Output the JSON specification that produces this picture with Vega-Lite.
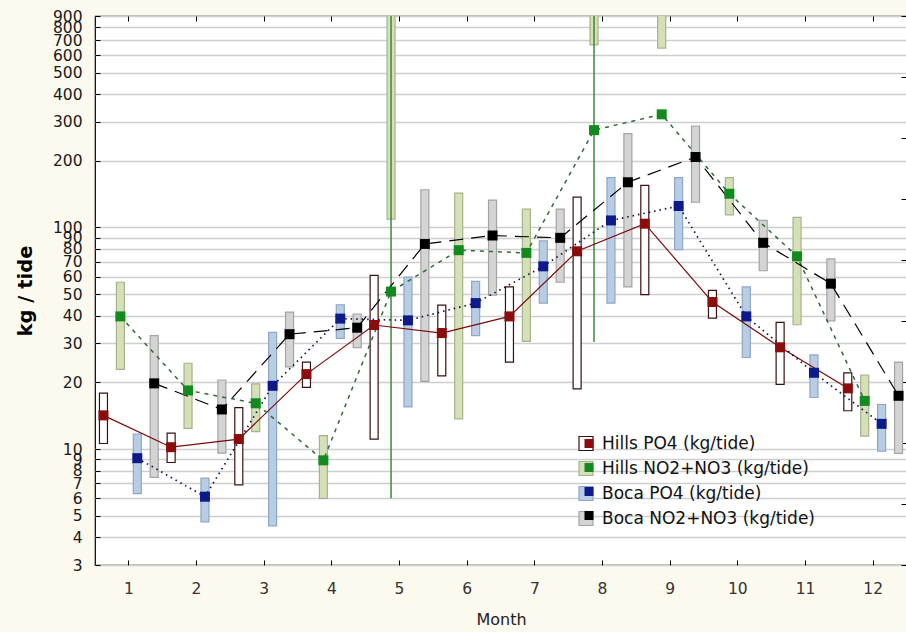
{
  "$schema": "https://vega.github.io/schema/vega-lite/v6.json",
  "width": 812,
  "height": 549,
  "autosize": {"type": "none"},
  "padding": {"left": 95, "top": 16, "right": 0, "bottom": 67},
  "background": "#fcf9ee",
  "config": {
    "view": {"stroke": "#000000", "strokeWidth": 1.2, "fill": "#ffffff"},
    "axis": {"domain": false, "tickColor": "#000000", "tickSize": -5, "labelFont": "DejaVu Sans", "titleFont": "DejaVu Sans"}
  },
  "data": {
    "values": [
      {"month": 1, "series": "Hills PO4 (kg/tide)", "mean": 14.2, "lo": 10.6, "hi": 17.9},
      {"month": 1, "series": "Hills NO2+NO3 (kg/tide)", "mean": 39.7, "lo": 22.9, "hi": 56.6},
      {"month": 1, "series": "Boca PO4  (kg/tide)", "mean": 9.1, "lo": 6.3, "hi": 11.7},
      {"month": 1, "series": "Boca NO2+NO3 (kg/tide)", "mean": 19.8, "lo": 7.45, "hi": 32.5},
      {"month": 2, "series": "Hills PO4 (kg/tide)", "mean": 10.2, "lo": 8.7, "hi": 11.8},
      {"month": 2, "series": "Hills NO2+NO3 (kg/tide)", "mean": 18.4, "lo": 12.4, "hi": 24.4},
      {"month": 2, "series": "Boca PO4  (kg/tide)", "mean": 6.1, "lo": 4.7, "hi": 7.4},
      {"month": 2, "series": "Boca NO2+NO3 (kg/tide)", "mean": 15.1, "lo": 9.6, "hi": 20.5},
      {"month": 3, "series": "Hills PO4 (kg/tide)", "mean": 11.1, "lo": 6.9, "hi": 15.4},
      {"month": 3, "series": "Hills NO2+NO3 (kg/tide)", "mean": 16.1, "lo": 12.0, "hi": 19.7},
      {"month": 3, "series": "Boca PO4  (kg/tide)", "mean": 19.3, "lo": 4.5, "hi": 33.6},
      {"month": 3, "series": "Boca NO2+NO3 (kg/tide)", "mean": 33.0, "lo": 23.5, "hi": 41.5},
      {"month": 4, "series": "Hills PO4 (kg/tide)", "mean": 21.8, "lo": 19.0, "hi": 24.7},
      {"month": 4, "series": "Hills NO2+NO3 (kg/tide)", "mean": 8.9, "lo": 6.0, "hi": 11.5},
      {"month": 4, "series": "Boca PO4  (kg/tide)", "mean": 38.8, "lo": 31.6, "hi": 44.8},
      {"month": 4, "series": "Boca NO2+NO3 (kg/tide)", "mean": 35.3, "lo": 28.7, "hi": 40.7},
      {"month": 5, "series": "Hills PO4 (kg/tide)", "mean": 36.3, "lo": 11.1, "hi": 60.8},
      {"month": 5, "series": "Hills NO2+NO3 (kg/tide)", "mean": 51.4, "lo": 109, "hi": 1000, "wlo": 6.0, "whi": 1000},
      {"month": 5, "series": "Boca PO4  (kg/tide)", "mean": 38.1, "lo": 15.5, "hi": 59.7},
      {"month": 5, "series": "Boca NO2+NO3 (kg/tide)", "mean": 84.3, "lo": 20.2, "hi": 148},
      {"month": 6, "series": "Hills PO4 (kg/tide)", "mean": 33.4, "lo": 21.4, "hi": 44.6},
      {"month": 6, "series": "Hills NO2+NO3 (kg/tide)", "mean": 79.0, "lo": 13.7, "hi": 143},
      {"month": 6, "series": "Boca PO4  (kg/tide)", "mean": 45.6, "lo": 32.5, "hi": 57.1},
      {"month": 6, "series": "Boca NO2+NO3 (kg/tide)", "mean": 92.0, "lo": 49.5, "hi": 133},
      {"month": 7, "series": "Hills PO4 (kg/tide)", "mean": 39.7, "lo": 24.7, "hi": 53.9},
      {"month": 7, "series": "Hills NO2+NO3 (kg/tide)", "mean": 76.8, "lo": 30.6, "hi": 121},
      {"month": 7, "series": "Boca PO4  (kg/tide)", "mean": 66.8, "lo": 45.6, "hi": 87.1},
      {"month": 7, "series": "Boca NO2+NO3 (kg/tide)", "mean": 89.8, "lo": 56.6, "hi": 121},
      {"month": 8, "series": "Hills PO4 (kg/tide)", "mean": 78.1, "lo": 18.7, "hi": 137},
      {"month": 8, "series": "Hills NO2+NO3 (kg/tide)", "mean": 275, "lo": 667, "hi": 1000, "wlo": 30.4, "whi": 1000},
      {"month": 8, "series": "Boca PO4  (kg/tide)", "mean": 107.6, "lo": 45.6, "hi": 168},
      {"month": 8, "series": "Boca NO2+NO3 (kg/tide)", "mean": 160, "lo": 53.9, "hi": 265},
      {"month": 9, "series": "Hills PO4 (kg/tide)", "mean": 104, "lo": 49.8, "hi": 155},
      {"month": 9, "series": "Hills NO2+NO3 (kg/tide)", "mean": 324, "lo": 645, "hi": 1000},
      {"month": 9, "series": "Boca PO4  (kg/tide)", "mean": 125, "lo": 79.4, "hi": 168},
      {"month": 9, "series": "Boca NO2+NO3 (kg/tide)", "mean": 208, "lo": 130, "hi": 287},
      {"month": 10, "series": "Hills PO4 (kg/tide)", "mean": 46.1, "lo": 39.0, "hi": 52.0},
      {"month": 10, "series": "Hills NO2+NO3 (kg/tide)", "mean": 142, "lo": 114, "hi": 168},
      {"month": 10, "series": "Boca PO4  (kg/tide)", "mean": 39.7, "lo": 25.9, "hi": 53.9},
      {"month": 10, "series": "Boca NO2+NO3 (kg/tide)", "mean": 85.3, "lo": 63.8, "hi": 107.6},
      {"month": 11, "series": "Hills PO4 (kg/tide)", "mean": 28.8, "lo": 19.6, "hi": 37.3},
      {"month": 11, "series": "Hills NO2+NO3 (kg/tide)", "mean": 74.1, "lo": 36.4, "hi": 111},
      {"month": 11, "series": "Boca PO4  (kg/tide)", "mean": 22.1, "lo": 17.1, "hi": 26.6},
      {"month": 11, "series": "Boca NO2+NO3 (kg/tide)", "mean": 55.8, "lo": 37.9, "hi": 72.1},
      {"month": 12, "series": "Hills PO4 (kg/tide)", "mean": 18.8, "lo": 14.9, "hi": 22.1},
      {"month": 12, "series": "Hills NO2+NO3 (kg/tide)", "mean": 16.5, "lo": 11.45, "hi": 21.6},
      {"month": 12, "series": "Boca PO4  (kg/tide)", "mean": 13.0, "lo": 9.8, "hi": 15.9},
      {"month": 12, "series": "Boca NO2+NO3 (kg/tide)", "mean": 17.4, "lo": 9.56, "hi": 24.7}
    ]
  },
  "layer": [
    {
      "encoding": {
        "x": {
          "field": "month", "type": "ordinal", "title": "Month",
          "scale": {"type": "band", "paddingInner": 0, "paddingOuter": 0},
          "axis": {
            "orient": "bottom", "labelAngle": 0, "grid": false,
            "labelFontSize": 15.5, "labelColor": "#333333", "labelPadding": 21.5,
            "titleFontSize": 16, "titleFontWeight": "normal", "titleColor": "#222222", "titlePadding": 14
          }
        },
        "xOffset": {
          "field": "series", "type": "nominal",
          "scale": {
            "domain": ["Hills PO4 (kg/tide)", "Hills NO2+NO3 (kg/tide)", "Boca PO4  (kg/tide)", "Boca NO2+NO3 (kg/tide)"],
            "paddingInner": 0, "paddingOuter": 0
          }
        }
      },
      "layer": [
        {
          "mark": {"type": "bar", "width": 8, "clip": true, "strokeWidth": 1.2},
          "encoding": {
            "y": {
              "field": "lo", "type": "quantitative", "title": "kg / tide",
              "scale": {"type": "log", "domain": [3, 900], "nice": false},
              "axis": {
                "orient": "left",
                "values": [3, 4, 5, 6, 7, 8, 9, 10, 20, 30, 40, 50, 60, 70, 80, 90, 100, 200, 300, 400, 500, 600, 700, 800, 900],
                "format": "d", "labelOverlap": false, "labelFontSize": 15.5, "labelColor": "#1a1a1a", "labelPadding": 18,
                "grid": true, "gridColor": "#cecece", "gridWidth": 1.5,
                "titleFontSize": 19.5, "titleFontWeight": "bold", "titleColor": "#000000", "titlePadding": 17
              }
            },
            "y2": {"field": "hi"},
            "fill": {
              "field": "series", "type": "nominal",
              "scale": {
                "domain": ["Hills PO4 (kg/tide)", "Hills NO2+NO3 (kg/tide)", "Boca PO4  (kg/tide)", "Boca NO2+NO3 (kg/tide)"],
                "range": ["#ffffff", "#d5e0b9", "#b8cce4", "#d4d4d4"]
              },
              "legend": {
                "title": null, "orient": "none", "legendX": 482.5, "legendY": 419, "padding": 0,
                "symbolType": "square", "symbolSize": 196, "symbolStrokeWidth": 1.2,
                "labelFont": "DejaVu Sans", "labelFontSize": 17, "labelColor": "#111111", "labelOffset": 7.5,
                "labelLimit": 400, "rowPadding": 6, "zindex": 0
              }
            },
            "stroke": {
              "field": "series", "type": "nominal",
              "scale": {
                "domain": ["Hills PO4 (kg/tide)", "Hills NO2+NO3 (kg/tide)", "Boca PO4  (kg/tide)", "Boca NO2+NO3 (kg/tide)"],
                "range": ["#3a1010", "#a5b38a", "#8ea6c8", "#a3a3a3"]
              }
            }
          }
        },
        {
          "transform": [{"filter": {"field": "whi", "valid": true}}],
          "mark": {"type": "rule", "color": "#3a8a3a", "strokeWidth": 1.5, "clip": true},
          "encoding": {
            "y": {"field": "wlo", "type": "quantitative", "title": "kg / tide"},
            "y2": {"field": "whi"}
          }
        },
        {
          "transform": [{"filter": {"field": "series", "equal": "Hills PO4 (kg/tide)"}}],
          "mark": {"type": "line", "stroke": "#7a0a0a", "strokeWidth": 1.2},
          "encoding": {"y": {"field": "mean", "type": "quantitative", "title": "kg / tide"}}
        },
        {
          "transform": [{"filter": {"field": "series", "equal": "Hills NO2+NO3 (kg/tide)"}}],
          "mark": {"type": "line", "stroke": "#2f6a3a", "strokeWidth": 1.5, "strokeDash": [4, 5]},
          "encoding": {"y": {"field": "mean", "type": "quantitative", "title": "kg / tide"}}
        },
        {
          "transform": [{"filter": {"field": "series", "equal": "Boca PO4  (kg/tide)"}}],
          "mark": {"type": "line", "stroke": "#101040", "strokeWidth": 1.7, "strokeDash": [1.5, 4]},
          "encoding": {"y": {"field": "mean", "type": "quantitative", "title": "kg / tide"}}
        },
        {
          "transform": [{"filter": {"field": "series", "equal": "Boca NO2+NO3 (kg/tide)"}}],
          "mark": {"type": "line", "stroke": "#000000", "strokeWidth": 1.2, "strokeDash": [14, 8]},
          "encoding": {"y": {"field": "mean", "type": "quantitative", "title": "kg / tide"}}
        },
        {
          "mark": {"type": "point", "shape": "square", "filled": true, "size": 100, "opacity": 1, "strokeWidth": 0},
          "encoding": {
            "y": {"field": "mean", "type": "quantitative", "title": "kg / tide"},
            "color": {
              "field": "series", "type": "nominal",
              "sort": ["Hills PO4 (kg/tide)", "Hills NO2+NO3 (kg/tide)", "Boca PO4  (kg/tide)", "Boca NO2+NO3 (kg/tide)"],
              "scale": {"range": ["#8a0c0c", "#128a1e", "#0c1a8a", "#000000"]},
              "legend": {
                "title": null, "orient": "none", "legendX": 485.5, "legendY": 419, "padding": 0,
                "symbolType": "square", "symbolSize": 81, "symbolStrokeWidth": 0,
                "labelFont": "DejaVu Sans", "labelFontSize": 17, "labelExpr": "' '", "labelOffset": 10.5,
                "rowPadding": 6, "zindex": 1
              }
            }
          }
        }
      ]
    },
    {
      "mark": {"type": "point", "opacity": 0, "clip": true},
      "encoding": {
        "x": {
          "field": "month", "type": "ordinal", "title": null,
          "scale": {"type": "band", "paddingInner": 0, "paddingOuter": 0},
          "axis": {"orient": "top", "labels": false, "grid": false, "domain": false, "tickSize": -5, "title": null}
        },
        "y": {
          "field": "month", "type": "quantitative", "title": null,
          "scale": {"domain": [0, 9], "nice": false},
          "axis": {"orient": "right", "values": [0, 1, 2, 3, 4, 5, 6, 7, 8, 9], "labels": false, "grid": false, "domain": false, "tickSize": -6, "title": null}
        }
      }
    }
  ],
  "resolve": {"scale": {"y": "independent"}, "axis": {"x": "independent", "y": "independent"}}
}
